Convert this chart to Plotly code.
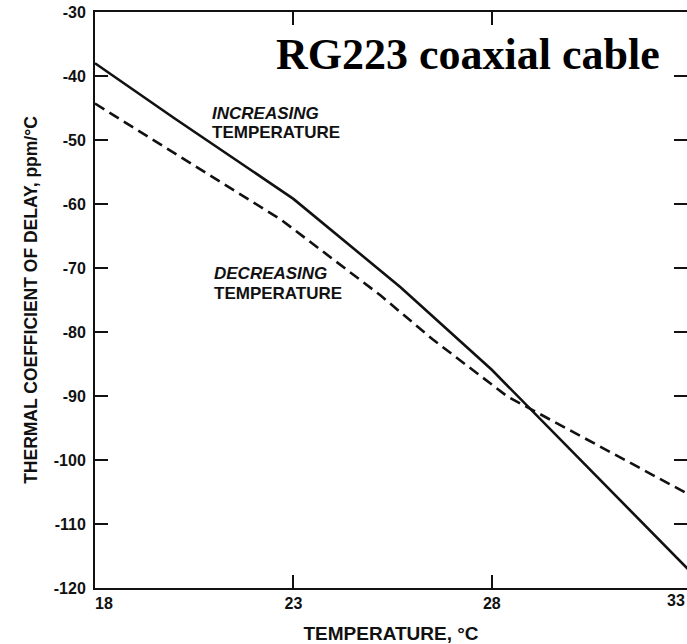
import plotly.graph_objects as go

# Thermal coefficient of delay vs temperature, RG223 coaxial cable
temp_increasing = [18, 20, 23, 25.7, 28, 29, 33]
tcd_increasing = [-38.0, -46.6, -59.2, -73.0, -85.9, -92.2, -117.4]

temp_decreasing = [18, 20, 22.7, 25.2, 26.5, 28.4, 33]
tcd_decreasing = [-44.3, -52.0, -62.5, -74.3, -81.1, -90.1, -105.5]

x_ticks = [18, 23, 28]
x_tick_text = ["\u00a0\u00a0\u00a0\u00a018", "23", "28"]
y_ticks = [-30, -40, -50, -60, -70, -80, -90, -100, -110, -120]
y_tick_text = ["-30", "-40", "-50", "-60", "-70", "-80", "-90", "-100", "-110", "-120"]

ink = "#111111"
sans = "Liberation Sans, Arial, sans-serif"

fig = go.Figure()
fig.add_trace(go.Scatter(
    x=temp_increasing, y=tcd_increasing, mode="lines",
    line=dict(color=ink, width=2.6), showlegend=False, hoverinfo="skip",
))
fig.add_trace(go.Scatter(
    x=temp_decreasing, y=tcd_decreasing, mode="lines",
    line=dict(color=ink, width=2.6, dash="11px,6px"), showlegend=False, hoverinfo="skip",
))

tick_font = dict(family=sans, size=16, color=ink, weight="bold")
label_font = dict(family=sans, size=17, color=ink, weight="bold")

fig.update_xaxes(
    range=[18, 32.92], tickvals=x_ticks, ticktext=x_tick_text,
    ticks="inside", ticklen=13, tickwidth=1.6, tickcolor=ink,
    showline=True, linewidth=2, linecolor=ink, mirror="ticks",
    showgrid=False, zeroline=False, tickfont=tick_font,
    title=dict(text="TEMPERATURE, °C", font=dict(family=sans, size=19, color=ink, weight="bold"), standoff=18),
    automargin=False,
)
fig.update_yaxes(
    range=[-120, -30], tickvals=y_ticks, ticktext=y_tick_text,
    ticks="inside", ticklen=13, tickwidth=1.6, tickcolor=ink,
    showline=True, linewidth=2, linecolor=ink, mirror="ticks",
    showgrid=False, zeroline=False, tickfont=tick_font, ticklabelstandoff=4,
    title=dict(text="THERMAL COEFFICIENT OF DELAY, ppm/°C", font=dict(family=sans, size=17.5, color=ink, weight="bold"), standoff=12),
    automargin=False,
)

annotations = [
    dict(text="<i>INCREASING</i>", x=20.97, y=-45.8),
    dict(text="TEMPERATURE", x=20.97, y=-48.8),
    dict(text="<i>DECREASING</i>", x=21.02, y=-70.9),
    dict(text="TEMPERATURE", x=21.02, y=-74.0),
]
for a in annotations:
    fig.add_annotation(
        x=a["x"], y=a["y"], xref="x", yref="y", text=a["text"], xshift=-3,
        xanchor="left", yanchor="middle", showarrow=False, font=label_font,
    )

# the 33 °C label, tucked against the right edge of the page
fig.add_annotation(
    x=1.0, y=0, xref="paper", yref="paper", text="33", xanchor="right", yanchor="top",
    yshift=-2, showarrow=False, font=tick_font,
)

fig.add_annotation(
    x=0.302, y=0.926, xref="paper", yref="paper", text="<b>RG223 coaxial cable</b>",
    xanchor="left", yanchor="middle", showarrow=False,
    font=dict(family="Liberation Serif, Times New Roman, serif", size=44, color="#000000"),
)

fig.update_layout(
    width=687, height=644,
    margin=dict(l=95, r=0, t=12, b=56),
    paper_bgcolor="white", plot_bgcolor="white",
)

fig.write_html("out.html")
